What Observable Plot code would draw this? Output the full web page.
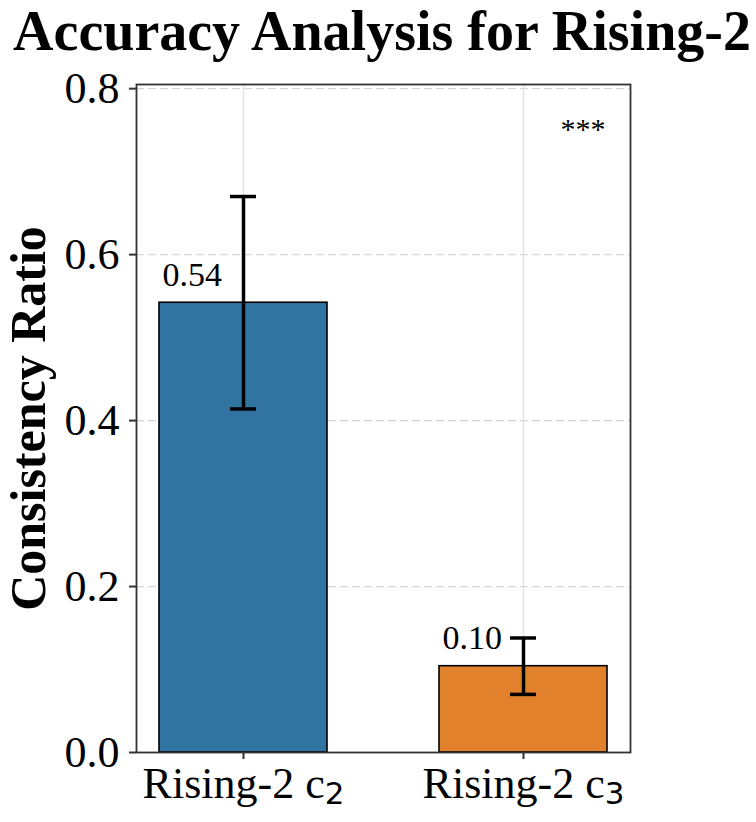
<!DOCTYPE html>
<html>
<head>
<meta charset="utf-8">
<script src="https://cdn.jsdelivr.net/npm/d3@7"></script>
<script src="https://cdn.jsdelivr.net/npm/@observablehq/plot@0.6"></script>
<style>
  html, body { margin: 0; padding: 0; background: #fff; }
  #wrap { width: 756px; height: 822px; position: relative; overflow: hidden; }
  #title {
    height: 60px; width: 756px; text-align: center;
    font-family: "Liberation Serif", "Times New Roman", serif;
    font-weight: bold; font-size: 56px; line-height: 62px;
    color: #000; padding-left: 8px; box-sizing: border-box; white-space: nowrap;
  }
  #chart g[aria-label="y-axis label"] text { font-size: 50px; font-weight: bold; }
</style>
</head>
<body>
<div id="wrap">
  <div id="title">Accuracy Analysis for Rising-2</div>
  <div id="chart"></div>
</div>
<script>
// Groups, mean consistency ratios and their error half-widths
const categories = ["Rising-2 c₂", "Rising-2 c₃"];
const means = [0.542, 0.104];
const errors = [0.128, 0.034];
const colors = ["#3274a1", "#e1812c"];
const yTicks = [0, 0.2, 0.4, 0.6, 0.8];
const significance = "***";

const rows = categories.map((cat, i) => ({
  cat,
  value: means[i],
  lo: means[i] - errors[i],
  hi: means[i] + errors[i]
}));

const capInset = 71;

const chart = Plot.plot({
  width: 756,
  height: 762,
  marginLeft: 136,
  marginRight: 126,
  marginTop: 24,
  marginBottom: 70,
  style: {
    fontFamily: "Liberation Serif, Times New Roman, serif",
    fontSize: "44px",
    color: "#000",
    background: "#fff",
    overflow: "visible"
  },
  x: { domain: categories, paddingInner: 0.4, paddingOuter: 0.08, label: null },
  y: { domain: [0, 0.805], label: null },
  color: { domain: categories, range: colors },
  marks: [
    Plot.gridY(yTicks, { stroke: "#d6d6d6", strokeOpacity: 1, strokeWidth: 1.2, strokeDasharray: "8,4" }),
    Plot.gridX(categories, { stroke: "#e3e3e3", strokeOpacity: 1, strokeWidth: 1.5 }),
    Plot.barY(rows, { x: "cat", y: "value", fill: "cat", stroke: "#000", strokeWidth: 1.6 }),
    Plot.ruleX(rows, { x: "cat", y1: "lo", y2: "hi", stroke: "#000", strokeWidth: 3.5 }),
    Plot.tickY(rows, { x: "cat", y: "lo", stroke: "#000", strokeWidth: 3.5, insetLeft: capInset, insetRight: capInset }),
    Plot.tickY(rows, { x: "cat", y: "hi", stroke: "#000", strokeWidth: 3.5, insetLeft: capInset, insetRight: capInset }),
    Plot.text(rows, {
      x: "cat", y: "value", text: d => d.value.toFixed(2),
      textAnchor: "start", lineAnchor: "bottom", dx: -81, dy: -17,
      fontSize: 34, fill: "#000"
    }),
    Plot.text([significance], {
      frameAnchor: "top-right", text: d => d, dx: -25, dy: 33,
      fontSize: 30, fill: "#000"
    }),
    Plot.axisY(yTicks, {
      tickSize: 7, tickPadding: 10, tickFormat: d => d.toFixed(1),
      stroke: "#333", strokeWidth: 2,
      label: "Consistency Ratio", labelAnchor: "center", labelArrow: "none", labelOffset: 127
    }),
    Plot.axisX({ tickSize: 7, tickPadding: 7, stroke: "#333", strokeWidth: 2, label: null }),
    Plot.frame({ stroke: "#333", strokeWidth: 1.8 })
  ]
});

// Render the subscript digit of each group name as a lowered sans-serif digit
const subDigits = { "₀": "0", "₁": "1", "₂": "2", "₃": "3", "₄": "4", "₅": "5", "₆": "6", "₇": "7", "₈": "8", "₉": "9" };
chart.querySelectorAll('g[aria-label="x-axis tick label"] text').forEach(t => {
  const s = t.textContent;
  const last = s.slice(-1);
  if (!(last in subDigits)) return;
  t.textContent = "";
  const ns = "http://www.w3.org/2000/svg";
  const main = document.createElementNS(ns, "tspan");
  main.textContent = s.slice(0, -1);
  const sub = document.createElementNS(ns, "tspan");
  sub.textContent = subDigits[last];
  sub.setAttribute("font-family", "DejaVu Sans, sans-serif");
  sub.setAttribute("font-size", "31");
  sub.setAttribute("dy", "6");
  t.appendChild(main);
  t.appendChild(sub);
});

document.getElementById("chart").appendChild(chart);
</script>
</body>
</html>
